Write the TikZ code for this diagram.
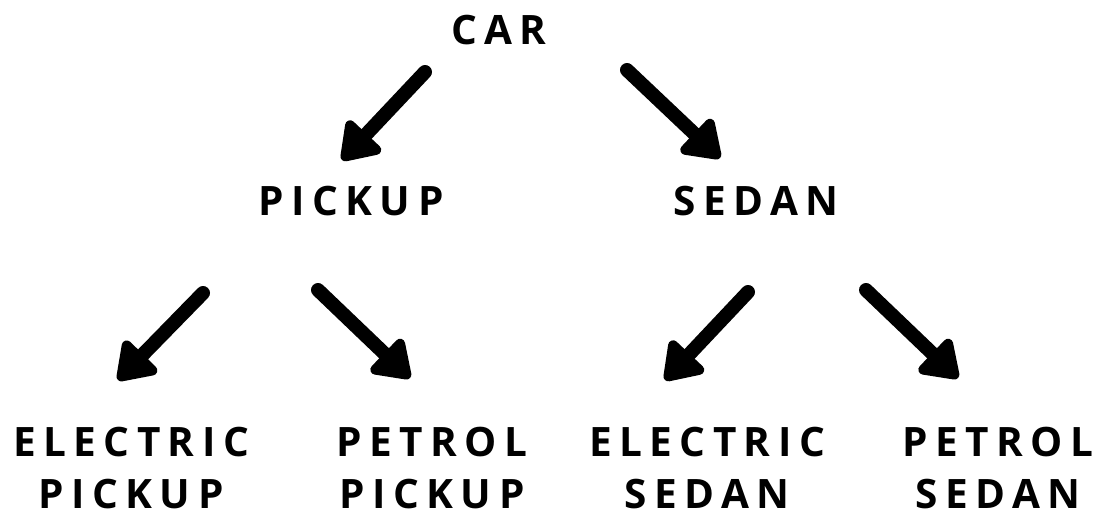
\documentclass[tikz,border=0pt]{standalone}
\usepackage{fontspec}
\setmainfont{Open Sans}[BoldFont={* Bold}]
\newfontfamily\labelfont{Open Sans}[LetterSpace=18.5,UprightFont={* Bold}]
\usetikzlibrary{arrows.meta}
\begin{document}
\begin{tikzpicture}[x=1pt,y=-1pt,
  lbl/.style={font=\labelfont\fontsize{40.5}{52}\selectfont, align=center, inner sep=0pt, text=black},
  bigarrow/.style={line width=14pt, line cap=round, -{Triangle[length=40pt,width=52pt,round]}}]
\useasboundingbox (0,0) rectangle (1103,516);
\node[lbl] (car) at (499,30) {CAR};
\node[lbl] (pickup) at (351,201) {PICKUP};
\node[lbl] (sedan) at (756,201) {SEDAN};
\node[lbl] (ep) at (131,468.5) {ELECTRIC\\PICKUP};
\node[lbl] (pp) at (432,468.5) {PETROL\\PICKUP};
\node[lbl] (es) at (707,468.5) {ELECTRIC\\SEDAN};
\node[lbl] (ps) at (998,468.5) {PETROL\\SEDAN};
\coordinate (a1s) at (425,72);  \coordinate (a1e) at (342,160);
\coordinate (a2s) at (627,70);  \coordinate (a2e) at (720,158);
\coordinate (a3s) at (203,293); \coordinate (a3e) at (118,380);
\coordinate (a4s) at (318,290); \coordinate (a4e) at (410,378);
\coordinate (a5s) at (748,292); \coordinate (a5e) at (665,380);
\coordinate (a6s) at (866,290); \coordinate (a6e) at (958,378);
\draw[bigarrow] (a1s) -- (a1e);
\draw[bigarrow] (a2s) -- (a2e);
\draw[bigarrow] (a3s) -- (a3e);
\draw[bigarrow] (a4s) -- (a4e);
\draw[bigarrow] (a5s) -- (a5e);
\draw[bigarrow] (a6s) -- (a6e);
\end{tikzpicture}
\end{document}
